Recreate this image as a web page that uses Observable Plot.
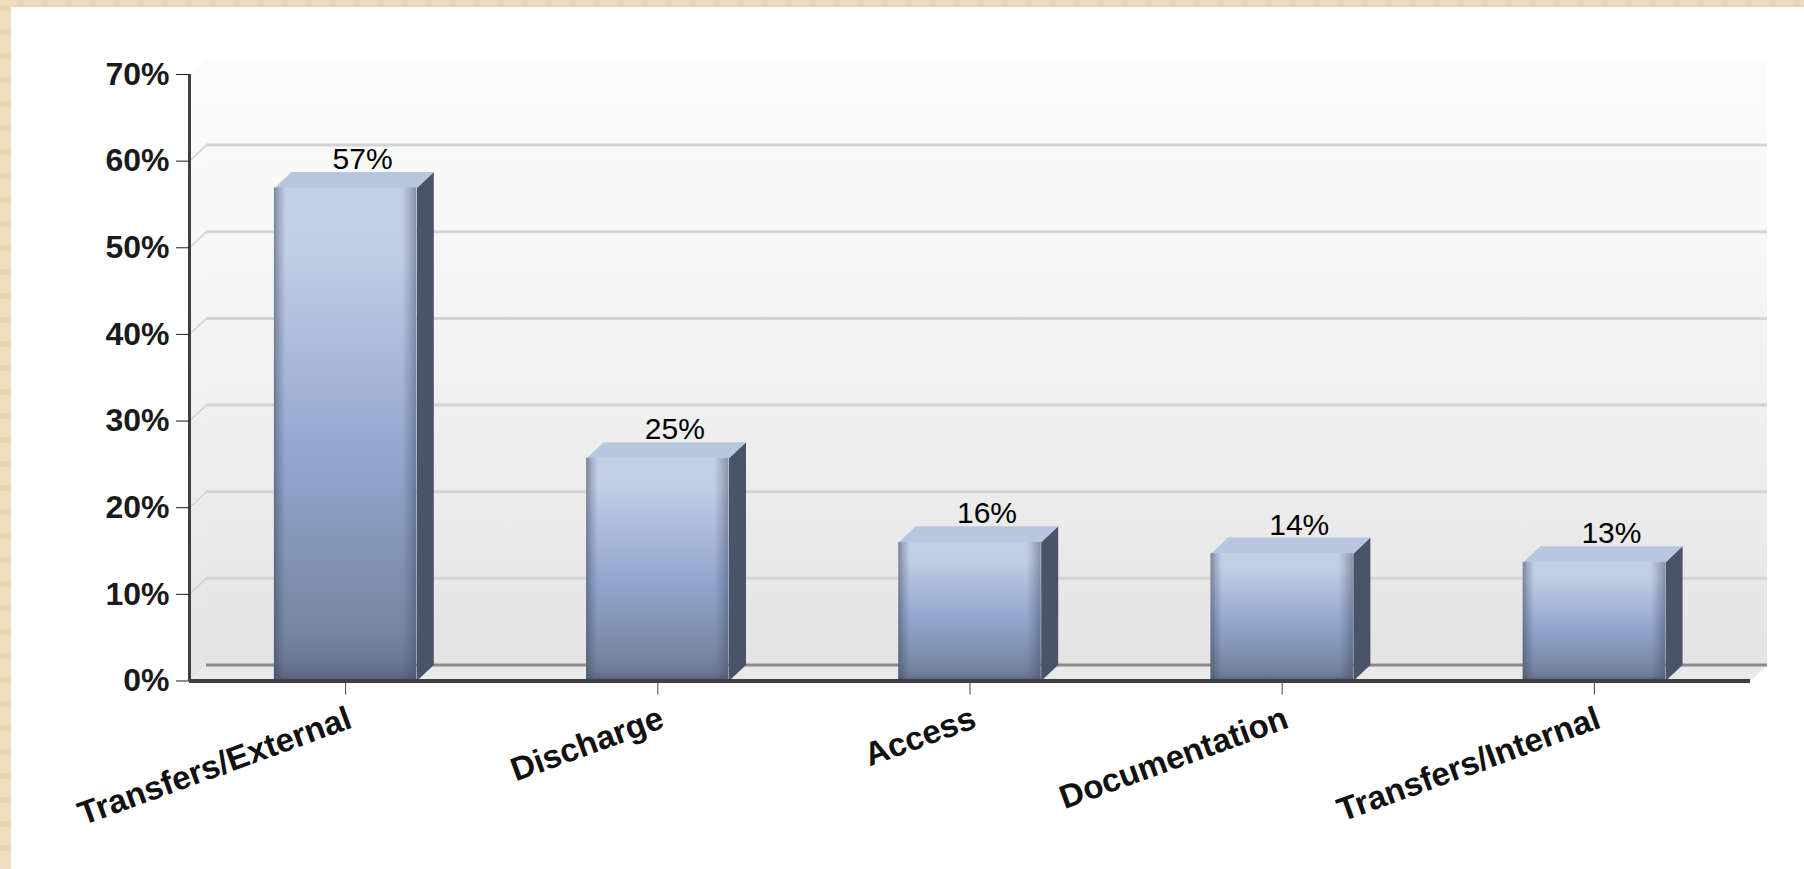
<!DOCTYPE html>
<html><head><meta charset="utf-8">
<script src="https://cdn.jsdelivr.net/npm/d3@7"></script>
<script src="https://cdn.jsdelivr.net/npm/@observablehq/plot@0.6"></script>
<style>
html,body{margin:0;padding:0;}
body{width:1804px;height:869px;overflow:hidden;position:relative;
 background-color:#efdfc0;
 background-image: repeating-linear-gradient(90deg, transparent 0 18px, rgba(205,175,115,0.16) 18px 24px), repeating-linear-gradient(0deg, transparent 0 18px, rgba(205,175,115,0.16) 18px 24px);}
#panel{position:absolute;left:11px;top:7px;width:1793px;height:862px;background:#fff;}
</style></head><body><div id="panel"></div>
<script>
const categories = ["Transfers/External", "Discharge", "Access", "Documentation", "Transfers/Internal"];
const values = [56.9, 25.7, 16.0, 14.7, 13.7];
const valueLabels = ["57%", "25%", "16%", "14%", "13%"];
const yTicks = [0, 10, 20, 30, 40, 50, 60, 70];

const DX = 0.0545, DY = 1.85, HW = 0.228;
const X0 = -0.5, X1 = 4.5, YMAX = 70;
const bars = categories.map((c, i) => ({i, c, v: values[i], label: valueLabels[i]}));

const poly = (id, pts) => pts.map(([x, y]) => ({id, x, y}));
const sides = bars.flatMap(b => poly(b.i, [[b.i + HW, 0], [b.i + HW + DX, DY], [b.i + HW + DX, b.v + DY], [b.i + HW, b.v]]));
const tops = bars.flatMap(b => poly(b.i, [[b.i - HW, b.v], [b.i + HW, b.v], [b.i + HW + DX, b.v + DY], [b.i - HW + DX, b.v + DY]]));
const leftWall = poly("lw", [[X0, 0], [X0 + DX, DY], [X0 + DX, YMAX + DY], [X0, YMAX]]);
const floor = poly("fl", [[X0, 0], [X1, 0], [X1 + DX, DY], [X0 + DX, DY]]);
const wall = [{x1: X0 + DX, x2: X1 + DX, y1: DY, y2: YMAX + DY}];

const font = "'Liberation Sans', Arial, sans-serif";

const chart = Plot.plot({
  width: 1793, height: 862,
  marginLeft: 178, marginRight: 54, marginTop: 67, marginBottom: 188.5,
  style: {background: "transparent", fontFamily: font, overflow: "visible"},
  x: {type: "linear", domain: [X0, X1]},
  y: {type: "linear", domain: [0, YMAX]},
  marks: [
    Plot.rect(wall, {x1: "x1", x2: "x2", y1: "y1", y2: "y2", fill: "url(#wallGrad)"}),
    Plot.line(leftWall, {x: "x", y: "y", z: "id", fill: "url(#wallGrad)", stroke: "none"}),
    Plot.line(floor, {x: "x", y: "y", z: "id", fill: "#e9e9e9", stroke: "none"}),
    Plot.ruleY(yTicks.filter(t => t > 0 && t < YMAX), {y: d => d + DY, x1: X0 + DX, x2: X1 + DX, stroke: "#d4d4d4", strokeWidth: 3}),
    Plot.link(yTicks.filter(t => t > 0 && t < YMAX), {x1: X0, y1: d => d, x2: X0 + DX, y2: d => d + DY, stroke: "#d0d0d0", strokeWidth: 1.5}),
    Plot.ruleY([DY], {x1: X0 + DX, x2: X1 + DX, stroke: "#8a8a8a", strokeWidth: 3}),
    Plot.line(sides, {x: "x", y: "y", z: "id", fill: "#4a5468", stroke: "none"}),
    Plot.line(tops, {x: "x", y: "y", z: "id", fill: "#b8c6df", stroke: "none"}),
    Plot.rect(bars, {x1: d => d.i - HW, x2: d => d.i + HW, y1: 0, y2: "v", fill: "url(#barGrad)"}),
    Plot.rect(bars, {x1: d => d.i - HW, x2: d => d.i + HW, y1: 0, y2: "v", fill: "url(#barEdge)"}),
    Plot.ruleY([0], {x1: X0, x2: X1, stroke: "#404040", strokeWidth: 4}),
    Plot.ruleX([X0], {y1: 0, y2: YMAX, stroke: "#404040", strokeWidth: 3}),
    Plot.axisY({ticks: yTicks, tickFormat: d => d + "%", tickSize: 13, tickPadding: 7, fontSize: 32, fontWeight: "bold", color: "#1a1a1a", label: null}),
    Plot.axisX({ticks: [0, 1, 2, 3, 4], tickFormat: () => "", tickSize: 14, color: "#444", label: null}),
    Plot.text(bars, {x: "i", y: 0, text: "c", rotate: -20, textAnchor: "end", lineAnchor: "top", dx: 0, dy: 24, fontSize: 33, fontWeight: "bold", fill: "#111"}),
    Plot.text(bars, {x: d => d.i + DX, y: d => d.v + DY, text: "label", lineAnchor: "bottom", dy: -3, fontSize: 30, fill: "#000"})
  ]
});

const NS = "http://www.w3.org/2000/svg";
function grad(id, horizontal, stops) {
  const g = document.createElementNS(NS, "linearGradient");
  g.setAttribute("id", id);
  g.setAttribute("x1", "0"); g.setAttribute("y1", "0");
  g.setAttribute("x2", horizontal ? "1" : "0"); g.setAttribute("y2", horizontal ? "0" : "1");
  for (const [o, c, a] of stops) {
    const s = document.createElementNS(NS, "stop");
    s.setAttribute("offset", o);
    s.setAttribute("stop-color", c);
    s.setAttribute("stop-opacity", a == null ? 1 : a);
    g.appendChild(s);
  }
  return g;
}
const defs = document.createElementNS(NS, "defs");
defs.appendChild(grad("wallGrad", false, [[0, "#fcfcfc"], [0.35, "#f6f6f6"], [1, "#e4e4e4"]]));
defs.appendChild(grad("barGrad", false, [[0, "#c3cfe5"], [0.12, "#c2cee5"], [0.55, "#93a6cf"], [0.9, "#76869f"], [0.965, "#6a7893"], [1, "#56627d"]]));
defs.appendChild(grad("barEdge", true, [[0, "#3c4660", 0.55], [0.03, "#3c4660", 0.3], [0.08, "#3c4660", 0], [0.9, "#3c4660", 0], [0.96, "#3c4660", 0.25], [1, "#3c4660", 0.45]]));
chart.insertBefore(defs, chart.firstChild);
document.getElementById("panel").appendChild(chart);
</script>
</body></html>
